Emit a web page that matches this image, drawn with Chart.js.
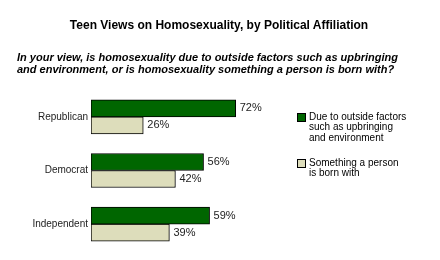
<!DOCTYPE html>
<html><head><meta charset="utf-8">
<script src="https://cdn.jsdelivr.net/npm/chart.js@4"></script>
<style>
html,body{margin:0;padding:0;background:#fff;}
#wrap{position:relative;width:440px;height:260px;overflow:hidden;font-family:"Liberation Sans",Arial,sans-serif;color:#000;}
#c{position:absolute;left:0;top:0;}
.t{position:absolute;white-space:nowrap;}
#title{left:0;width:438px;text-align:center;top:18px;font-size:12px;font-weight:bold;line-height:14px;}
#sub{left:17px;top:52px;font-size:11px;font-weight:bold;font-style:italic;line-height:11.5px;}
.leg{position:absolute;left:297px;font-size:10px;line-height:10.8px;}
.sw{position:absolute;left:0;top:1px;width:7px;height:7px;border:1px solid #000;}
.lt{position:absolute;left:12px;top:0;white-space:nowrap;}
</style></head>
<body><div id="wrap">
<canvas id="c" width="440" height="260"></canvas>
<div class="t" id="title">Teen Views on Homosexuality, by Political Affiliation</div>
<div class="t" id="sub">In your view, is homosexuality due to outside factors such as upbringing<br>and environment, or is homosexuality something a person is born with?</div>
<div class="leg" id="leg1" style="top:111.5px"><div class="sw" style="background:#006600"></div><div class="lt">Due to outside factors<br>such as upbringing<br>and environment</div></div>
<div class="leg" id="leg2" style="top:157.5px"><div class="sw" style="background:#DDDDBB"></div><div class="lt">Something a person<br>is born with</div></div>
</div>
<script>
const categories = ["Republican", "Democrat", "Independent"];
const seriesNames = ["Due to outside factors such as upbringing and environment", "Something a person is born with"];
const outsideFactors = [72, 56, 59];
const bornWith = [26, 42, 39];
const colors = ["#006600", "#DDDDBB"];

const valueLabels = {
  id: 'valueLabels',
  afterDatasetsDraw(chart) {
    const ctx = chart.ctx;
    ctx.save();
    ctx.font = '11px "Liberation Sans", Arial, sans-serif';
    ctx.fillStyle = '#222';
    ctx.textBaseline = 'middle';
    ctx.textAlign = 'left';
    chart.data.datasets.forEach((ds, i) => {
      chart.getDatasetMeta(i).data.forEach((bar, j) => {
        ctx.fillText(ds.data[j] + '%', bar.x + 4, bar.y);
      });
    });
    ctx.restore();
  }
};

new Chart(document.getElementById('c'), {
  type: 'bar',
  data: {
    labels: categories,
    datasets: [
      { label: seriesNames[0], data: outsideFactors, backgroundColor: colors[0], borderColor: '#000', borderWidth: 1, borderSkipped: false, barThickness: 17 },
      { label: seriesNames[1], data: bornWith, backgroundColor: colors[1], borderColor: '#000', borderWidth: 1, borderSkipped: false, barThickness: 17 }
    ]
  },
  options: {
    indexAxis: 'y',
    responsive: false,
    animation: false,
    events: [],
    layout: { padding: { left: 0, right: 148, top: 90, bottom: 9 } },
    plugins: { legend: { display: false }, tooltip: { enabled: false }, title: { display: false } },
    scales: {
      x: { display: false, min: 0, max: 100 },
      y: {
        grid: { display: false, drawTicks: false },
        border: { display: false },
        ticks: { padding: 3, color: '#222', font: { family: '"Liberation Sans", Arial, sans-serif', size: 10 } },
        afterFit(scale) { scale.width = 91; }
      }
    }
  },
  plugins: [valueLabels]
});
</script>
</body></html>
